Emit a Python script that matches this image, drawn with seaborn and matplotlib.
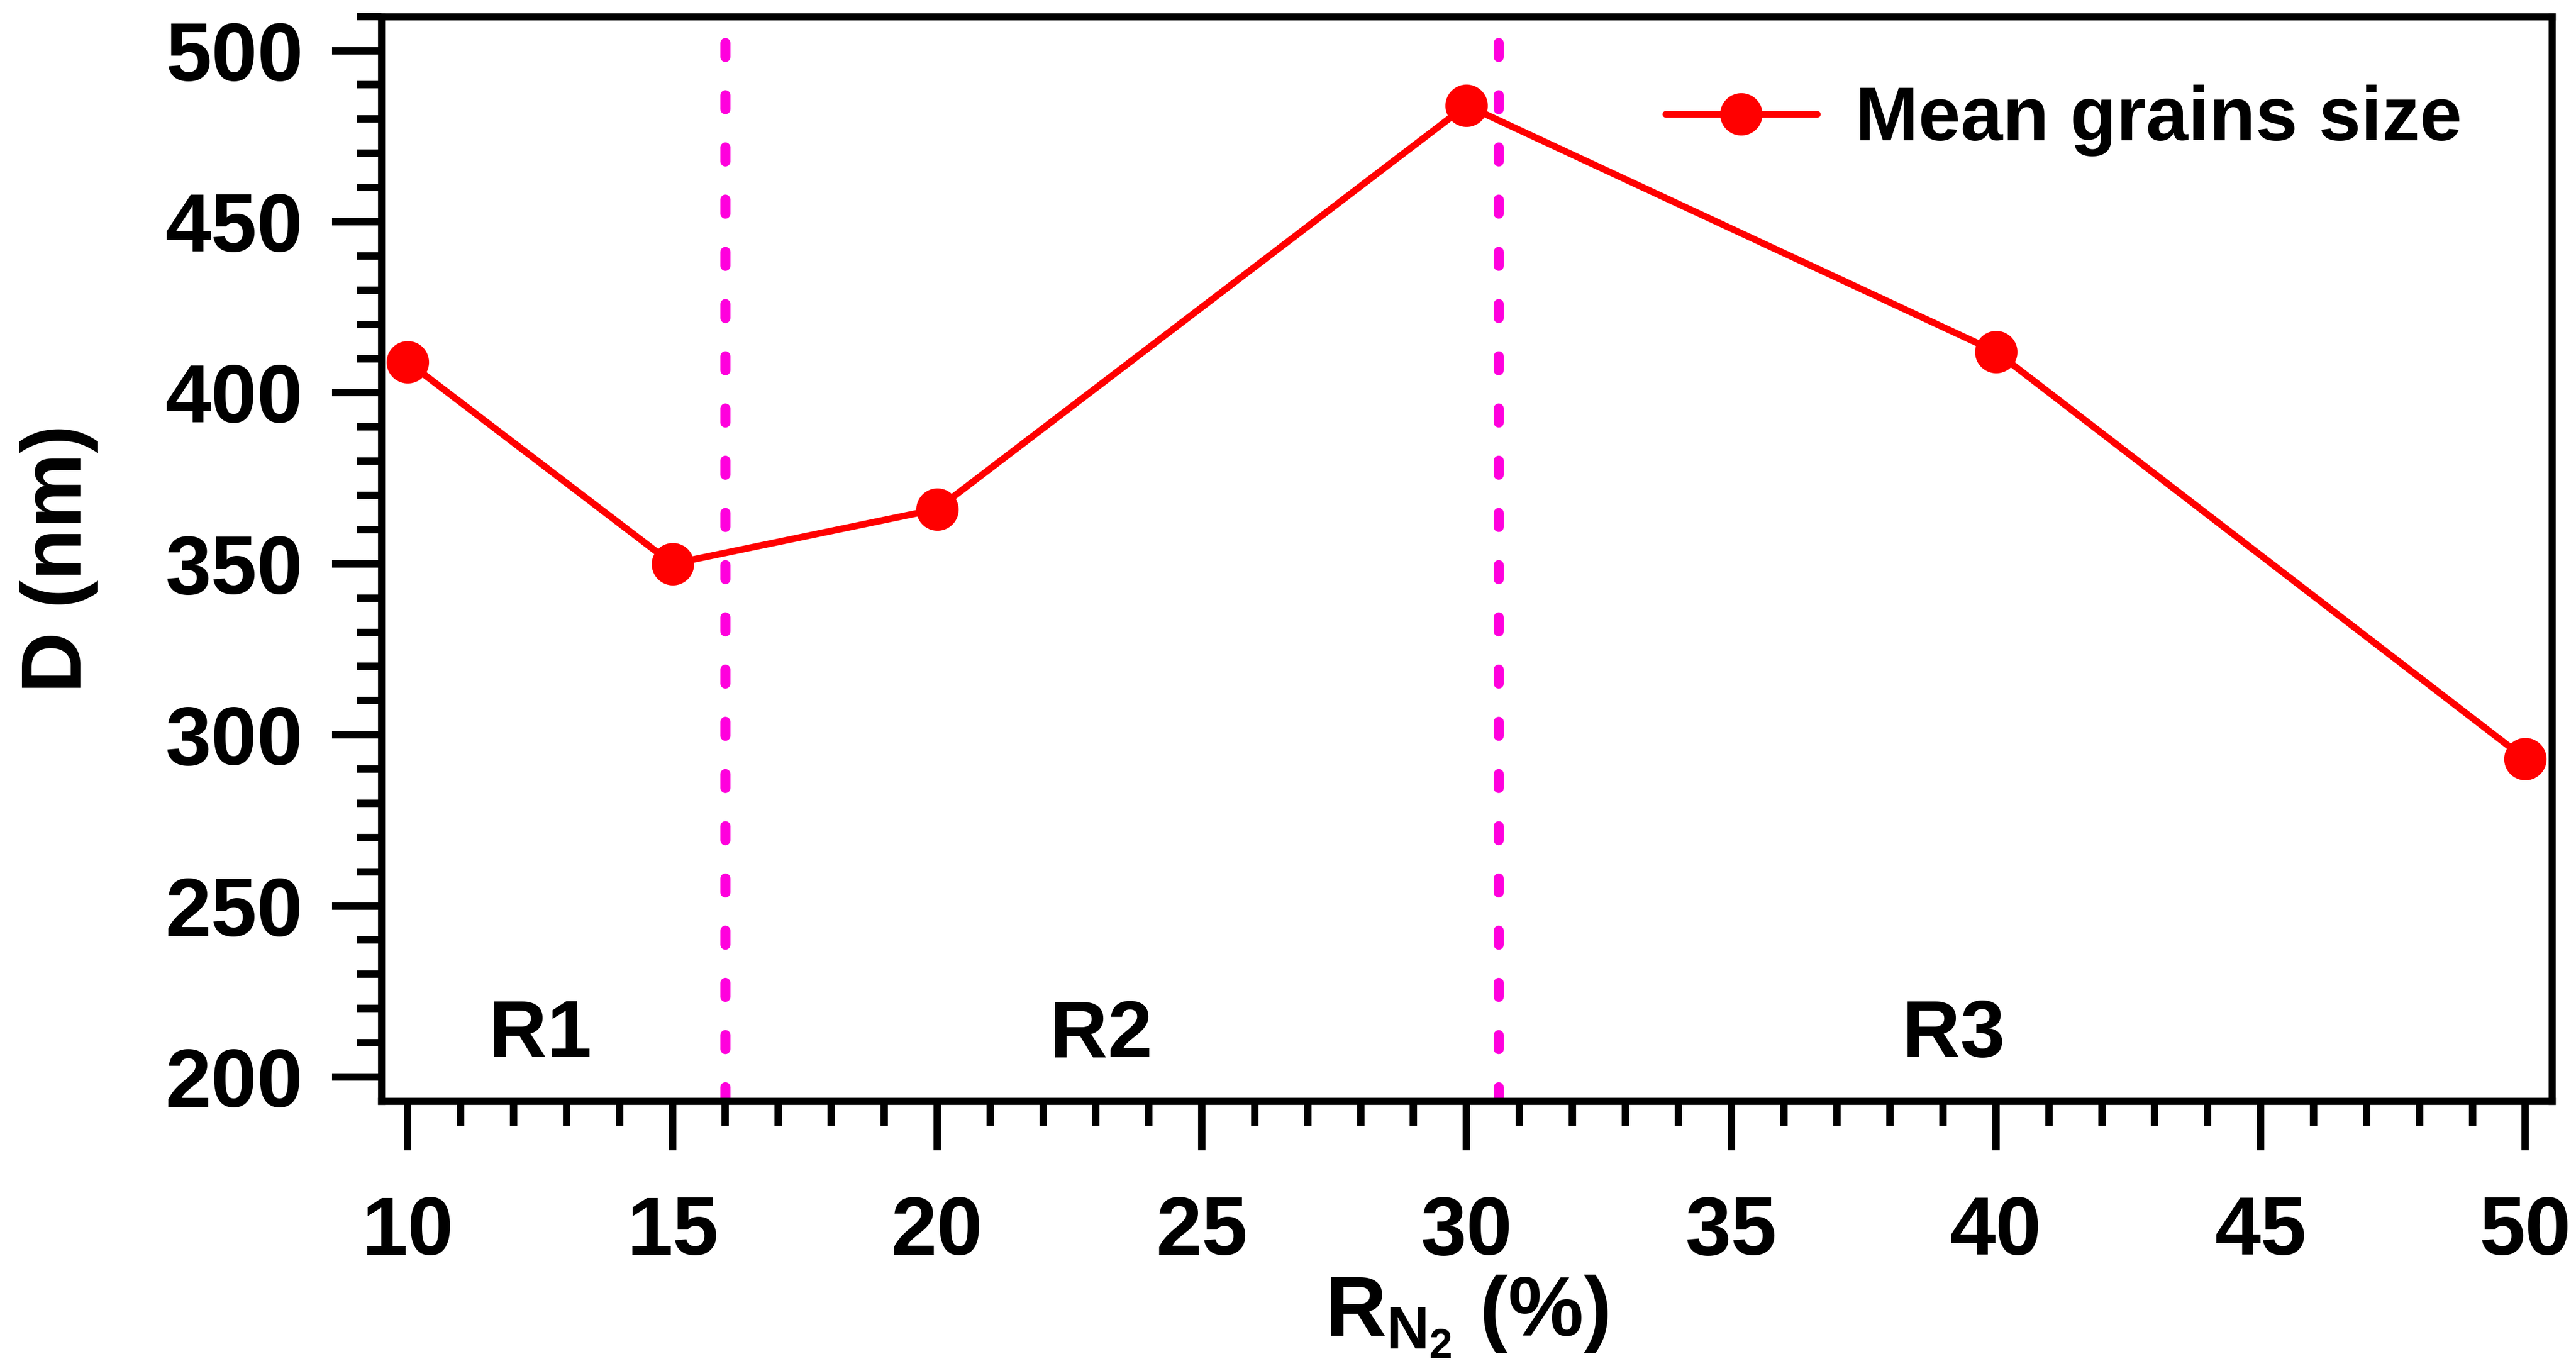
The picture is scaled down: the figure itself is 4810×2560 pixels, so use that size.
import pandas as pd
import seaborn as sns
import matplotlib.pyplot as plt
from matplotlib.ticker import MultipleLocator

# nitrogen ratio (%) and mean grain size (nm)
rn2 = [10, 15, 20, 30, 40, 50]
grain_size = [409, 350, 366, 484, 412, 293]
series_name = "Mean grains size"

# region boundaries and labels
region_bounds = [16.0, 30.6]
region_labels = ["R1", "R2", "R3"]
region_label_x = [12.5, 23.1, 39.2]
region_label_y = 212

sns.set_style("ticks")
plt.rcParams['font.family'] = ['Liberation Sans', 'DejaVu Sans']
plt.rcParams['font.weight'] = 'bold'
plt.rcParams['mathtext.fontset'] = 'custom'
plt.rcParams['mathtext.rm'] = 'Liberation Sans:bold'
plt.rcParams['mathtext.it'] = 'Liberation Sans:bold'
plt.rcParams['mathtext.bf'] = 'Liberation Sans:bold'
for key in ['text.color', 'axes.labelcolor', 'xtick.color', 'ytick.color', 'axes.edgecolor']:
    plt.rcParams[key] = 'black'

df = pd.DataFrame({"RN2": rn2, "D": grain_size, "series": series_name})

fig = plt.figure(figsize=(4810 / 300, 2560 / 300), dpi=300)
ax = fig.add_axes([0.148, 0.197, 0.8426, 0.791])

sns.lineplot(data=df, x="RN2", y="D", hue="series", palette=["#ff0000"],
             marker="o", markersize=19, markeredgewidth=0, linewidth=3.0, ax=ax)

for xb in region_bounds:
    ax.axvline(xb, color="#ff00dd", linewidth=4.5, linestyle=(0, (1.4, 3.8)),
               dash_capstyle="round", zorder=1)

for lab, xl in zip(region_labels, region_label_x):
    ax.text(xl, region_label_y, lab, ha="center", va="center",
            fontsize=36, fontweight="bold")

ax.set_xlim(9.5, 50.5)
ax.set_ylim(193, 510)
ax.xaxis.set_major_locator(MultipleLocator(5))
ax.xaxis.set_minor_locator(MultipleLocator(1))
ax.yaxis.set_major_locator(MultipleLocator(50))
ax.yaxis.set_minor_locator(MultipleLocator(10))

ax.tick_params(which="major", direction="out", length=22, width=3.3,
               labelsize=37, pad=13)
ax.tick_params(which="minor", direction="out", length=11, width=3.3)
ax.tick_params(axis="x", which="major", pad=20)
for lbl in ax.get_xticklabels() + ax.get_yticklabels():
    lbl.set_fontweight("bold")

for sp in ax.spines.values():
    sp.set_linewidth(3.2)

ax.set_xlabel("$R_{N_2}$ (%)", fontsize=38, fontweight="bold", labelpad=1)
ax.set_ylabel("D (nm)", fontsize=38, fontweight="bold", labelpad=30)

leg = ax.legend(loc="upper right", frameon=False, fontsize=34,
                handlelength=2.0, handletextpad=0.5,
                bbox_to_anchor=(0.99, 1.0))
for t in leg.get_texts():
    t.set_fontweight("bold")

fig.savefig("out.png", dpi=300, facecolor="white")
